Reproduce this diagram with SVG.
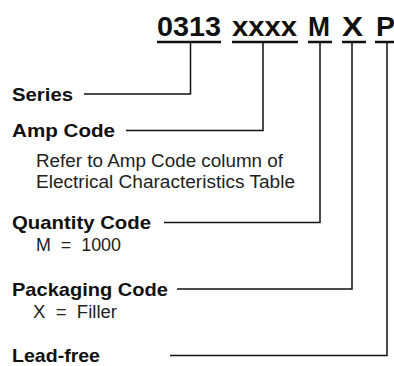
<svg xmlns="http://www.w3.org/2000/svg" width="394" height="366" viewBox="0 0 394 366">
<style>
text{font-family:"Liberation Sans",Arial,Helvetica,sans-serif;fill:#111}
.h{font-size:27px;font-weight:bold}
.b{font-size:19px;font-weight:bold}
.r{font-size:17.5px;fill:#222}
.ul{stroke:#111;stroke-width:2.4;fill:none}
.c{stroke:#111;stroke-width:1.5;fill:none}
</style>
<rect width="394" height="366" fill="#fff"/>
<g id="header">
<text class="h" x="157" y="36" textLength="64" lengthAdjust="spacingAndGlyphs">0313</text>
<text class="h" x="232" y="36" textLength="65" lengthAdjust="spacingAndGlyphs">xxxx</text>
<text class="h" x="308" y="36" textLength="22" lengthAdjust="spacingAndGlyphs">M</text>
<text class="h" x="342" y="36" textLength="21" lengthAdjust="spacingAndGlyphs">X</text>
<text class="h" x="376" y="36" textLength="19" lengthAdjust="spacingAndGlyphs">P</text>
<path class="ul" d="M157,42H221M232,42H298M308,42H332M342,42H366M375,42H394"/>
</g>
<g id="series">
<text class="b" x="12" y="100.5" textLength="61" lengthAdjust="spacingAndGlyphs">Series</text>
</g>
<g id="amp-code">
<text class="b" x="12" y="137" textLength="103" lengthAdjust="spacingAndGlyphs">Amp Code</text>
<text class="r" x="36" y="166.5" textLength="247" lengthAdjust="spacingAndGlyphs">Refer to Amp Code column of</text>
<text class="r" x="36" y="188" textLength="259" lengthAdjust="spacingAndGlyphs">Electrical Characteristics Table</text>
</g>
<g id="quantity-code">
<text class="b" x="12" y="229" textLength="139" lengthAdjust="spacingAndGlyphs">Quantity Code</text>
<text class="r" x="36" y="251" textLength="85" lengthAdjust="spacingAndGlyphs" xml:space="preserve">M  =  1000</text>
</g>
<g id="packaging-code">
<text class="b" x="12" y="295.5" textLength="156" lengthAdjust="spacingAndGlyphs">Packaging Code</text>
<text class="r" x="33" y="318" textLength="84" lengthAdjust="spacingAndGlyphs" xml:space="preserve">X  =  Filler</text>
</g>
<g id="lead-free">
<text class="b" x="12" y="361.5" textLength="88" lengthAdjust="spacingAndGlyphs">Lead-free</text>
</g>
<g id="connectors">
<path class="c" d="M84,94H190.5V42"/>
<path class="c" d="M126,130.5H263V42"/>
<path class="c" d="M164,222.5H320V42"/>
<path class="c" d="M177,289H352V42"/>
<path class="c" d="M170,355.5H387V42"/>
</g>
</svg>
